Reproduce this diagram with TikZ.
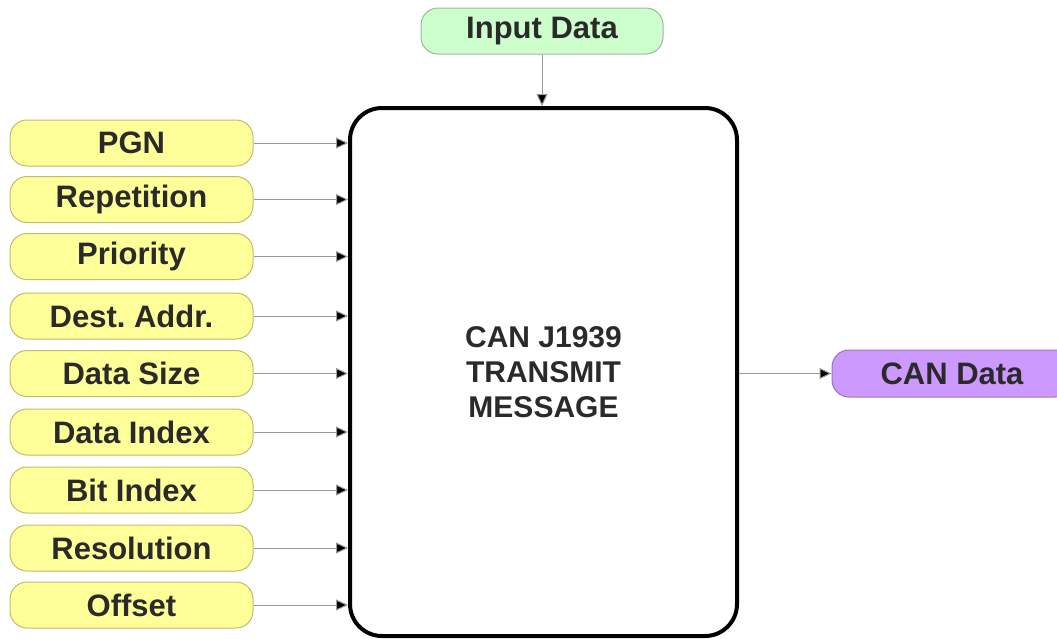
\documentclass[tikz,border=0pt]{standalone}
\usepackage{fontspec}
\setmainfont{Liberation Sans}
\usetikzlibrary{arrows.meta}
\definecolor{yfill}{HTML}{FFFF99}
\definecolor{ydraw}{HTML}{BDBD70}
\definecolor{gfill}{HTML}{CCFFCC}
\definecolor{gdraw}{HTML}{9CB89C}
\definecolor{pfill}{HTML}{CC99FF}
\definecolor{pdraw}{HTML}{9A74C0}
\definecolor{txt}{HTML}{2A2A2A}
\tikzset{
  pill/.style={rounded corners=17pt, minimum height=46pt, inner sep=0pt, line width=1pt,
    font=\fontsize{31}{33}\selectfont\bfseries\frenchspacing, text=txt},
  ybox/.style={pill, fill=yfill, draw=ydraw, minimum width=243pt},
  conn/.style={draw=black!40, line width=1pt, -{Triangle[length=12pt,width=11pt,fill=black]}},
}
\begin{document}
\begin{tikzpicture}[x=1pt,y=-1pt]
\useasboundingbox (0,0) rectangle (1057,638);
\begin{scope}
\clip (0,0) rectangle (1057,638);
\node[draw=black, line width=4pt, rounded corners=32pt, minimum width=387pt, minimum height=528pt, inner sep=0pt,
  font=\fontsize{30}{35}\selectfont\bfseries, text=txt, align=center] (main) at (543.5,372) {CAN J1939\\TRANSMIT\\MESSAGE};
\node[pill, fill=gfill, draw=gdraw, minimum width=242pt] (in) at (542,31) {Input Data};
\node[pill, fill=pfill, draw=pdraw, minimum width=240pt, minimum height=47pt] (out) at (952,373.5) {CAN Data};
\foreach \n/\t/\y in {a/PGN/143, b/Repetition/199.5, c/Priority/256.5, d/Dest. Addr./316, e/Data Size/373.5, f/Data Index/432, g/Bit Index/490, h/Resolution/548, i/Offset/605}{
  \node[ybox] (\n) at (131.5,\y) {\t};
  \draw[conn] (\n.east) -- (\n.east -| main.west);
}
\draw[conn] (in.south) -- (in.south |- main.north);
\draw[conn] (main.east |- out.west) -- (out.west);
\end{scope}
\end{tikzpicture}
\end{document}
